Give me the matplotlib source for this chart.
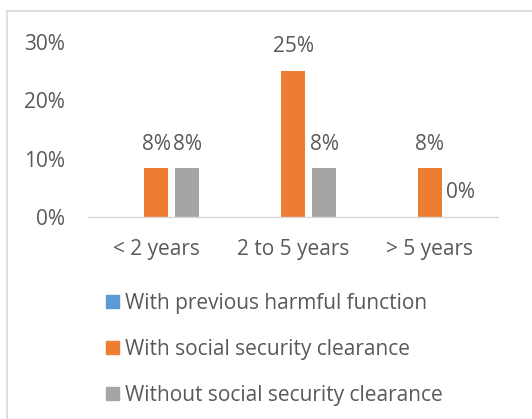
import numpy as np
import matplotlib
matplotlib.use("Agg")
import matplotlib.pyplot as plt
import matplotlib.patches as mpatches
from matplotlib.lines import Line2D

plt.rcParams['font.family'] = ['Open Sans', 'DejaVu Sans']

categories = ["< 2 years", "2 to 5 years", "> 5 years"]
series_names = ["With previous harmful function",
                "With social security clearance",
                "Without social security clearance"]
harmful = [np.nan, np.nan, np.nan]
with_clearance = [1/12, 3/12, 1/12]
without_clearance = [1/12, 1/12, 0.0]
y_ticks = [0, 0.1, 0.2, 0.3]
y_tick_labels = ["0%", "10%", "20%", "30%"]

colors = ["#5B9BD5", "#ED7D31", "#A5A5A5"]
text_col = "#595959"
fs = 15

fig = plt.figure(figsize=(5.32, 4.19), dpi=100)
W, H = 532, 419
ax = fig.add_axes([88 / W, (H - 217) / H, 410 / W, 175 / H])

x = np.arange(len(categories))
width = 0.176
step = 0.227
all_series = [harmful, with_clearance, without_clearance]
for k, (vals, col) in enumerate(zip(all_series, colors)):
    pos = x + (k - 1) * step
    ax.bar(pos, vals, width=width, color=col)
    if k == 0:
        continue
    for p, v in zip(pos, vals):
        ax.annotate("{:.0f}%".format(v * 100), (p, v), xytext=(0, 17.5),
                    textcoords="offset points", ha="center", va="center",
                    fontsize=fs, color=text_col)

ax.set_xlim(-0.5, 2.5)
ax.set_ylim(0, 0.30)
ax.set_xticks(x)
ax.set_xticklabels(categories, fontsize=fs, color=text_col)
ax.set_yticks(y_ticks)
ax.set_yticklabels(y_tick_labels, fontsize=fs, color=text_col)
ax.tick_params(length=0)
ax.tick_params(axis="x", pad=16)
ax.tick_params(axis="y", pad=16.5)
for s in ["top", "right", "left"]:
    ax.spines[s].set_visible(False)
ax.spines["bottom"].set_color("#D9D9D9")
ax.spines["bottom"].set_linewidth(1.0)

handles = [mpatches.Patch(color=c) for c in colors]
fig.legend(handles, series_names, loc="upper left",
           bbox_to_anchor=(106 / W, 1 - 293 / H), frameon=False,
           fontsize=fs, labelcolor=text_col, handlelength=0.62,
           handleheight=0.62, handletextpad=0.3, labelspacing=1.2,
           borderpad=0, borderaxespad=0)

# chart area border (left and top edges visible)
fig.add_artist(Line2D([7 / W, 7 / W], [0, 1 - 11 / H], transform=fig.transFigure,
                      color="#D9D9D9", lw=1.2))
fig.add_artist(Line2D([7 / W, 1], [1 - 11 / H, 1 - 11 / H], transform=fig.transFigure,
                      color="#D9D9D9", lw=1.2))

fig.savefig("out.png", dpi=100)
